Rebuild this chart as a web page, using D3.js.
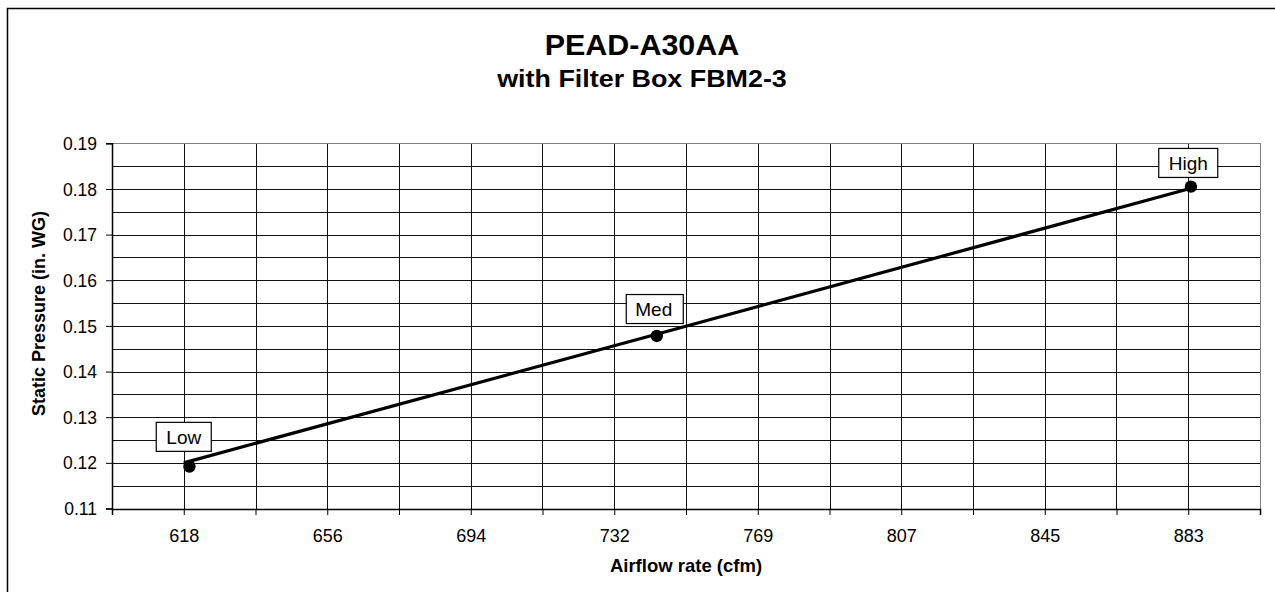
<!DOCTYPE html>
<html>
<head>
<meta charset="utf-8">
<script src="https://cdn.jsdelivr.net/npm/d3@7"></script>
<style>
  html, body { margin: 0; padding: 0; background: #fff; }
  svg { display: block; }
  text { font-family: Arial, "Liberation Sans", sans-serif; fill: #000; }
</style>
</head>
<body>
<svg id="chart" width="1275" height="592"></svg>
<script>
// ---- data ----
const titleText = "PEAD-A30AA";
const subtitleText = "with Filter Box FBM2-3";
const xTitle = "Airflow rate (cfm)";
const yTitle = "Static Pressure (in. WG)";

const xTickLabels = ["618", "656", "694", "732", "769", "807", "845", "883"];
const yTickValues = [0.11, 0.12, 0.13, 0.14, 0.15, 0.16, 0.17, 0.18, 0.19];

// fan-speed curve (line series with data labels)
const speedNames = ["Low", "Med", "High"];
const curveAirflow = [618, 742, 883];
const curvePressure = [0.12, 0.148, 0.18];

// measured points (marker series)
const pointAirflow = [619.5, 742.8, 883.7];
const pointPressure = [0.1192, 0.1478, 0.1805];

// ---- layout ----
const svg = d3.select("#chart");
const W = 1275, H = 592;
const plot = { left: 112, right: 1260, top: 143.3, bottom: 508.5 };

const firstLabel = +xTickLabels[0], lastLabel = +xTickLabels[xTickLabels.length - 1];
const minorStep = (lastLabel - firstLabel) / ((xTickLabels.length - 1) * 2);
const xMin = firstLabel - minorStep, xMax = lastLabel + minorStep;

const x = d3.scaleLinear().domain([xMin, xMax]).range([plot.left, plot.right]);
const y = d3.scaleLinear().domain([d3.min(yTickValues), d3.max(yTickValues)]).range([plot.bottom, plot.top]);

const xGridValues = d3.range((xTickLabels.length - 1) * 2 + 3).map(i => xMin + i * minorStep).filter(v => v <= xMax + 1e-9);
const yGridValues = d3.range((yTickValues.length - 1) * 2 + 1).map(i => d3.min(yTickValues) + i * 0.005);

// outer chart border
svg.append("rect")
  .attr("x", 7.5).attr("y", 8.5)
  .attr("width", W + 20).attr("height", H + 20)
  .attr("fill", "#fff").attr("stroke", "#000").attr("stroke-width", 1.5);

// titles (slightly widened to match the original's glyph proportions)
svg.append("text")
  .attr("transform", "translate(642,55) scale(1.05,1)")
  .attr("text-anchor", "middle").attr("font-weight", "bold").attr("font-size", 29)
  .text(titleText);
svg.append("text")
  .attr("transform", "translate(642,87) scale(1.12,1)")
  .attr("text-anchor", "middle").attr("font-weight", "bold").attr("font-size", 24)
  .text(subtitleText);

// gridlines
const g = svg.append("g").attr("shape-rendering", "crispEdges");
g.selectAll("line.hgrid").data(yGridValues).enter().append("line")
  .attr("class", "hgrid")
  .attr("x1", plot.left).attr("x2", plot.right)
  .attr("y1", d => Math.round(y(d)) + 0.5).attr("y2", d => Math.round(y(d)) + 0.5)
  .attr("stroke", "#111").attr("stroke-width", 1);
g.selectAll("line.vgrid").data(xGridValues).enter().append("line")
  .attr("class", "vgrid")
  .attr("x1", d => Math.round(x(d)) + 0.5).attr("x2", d => Math.round(x(d)) + 0.5)
  .attr("y1", plot.top).attr("y2", plot.bottom)
  .attr("stroke", "#111").attr("stroke-width", 1);

// plot border top/right gray
g.append("line").attr("x1", plot.left).attr("x2", plot.right + 1)
  .attr("y1", Math.round(plot.top) + 0.5).attr("y2", Math.round(plot.top) + 0.5)
  .attr("stroke", "#808080").attr("stroke-width", 1.5);
g.append("line").attr("x1", Math.round(plot.right) + 0.5).attr("x2", Math.round(plot.right) + 0.5)
  .attr("y1", plot.top).attr("y2", plot.bottom)
  .attr("stroke", "#808080").attr("stroke-width", 1.5);

// x axis
const xAxis = d3.axisBottom(x)
  .tickValues(xGridValues)
  .tickSizeOuter(0)
  .tickSize(6)
  .tickFormat((d, i) => (i % 2 === 1) ? xTickLabels[(i - 1) / 2] : "");
const xg = svg.append("g").attr("transform", `translate(0,${Math.round(plot.bottom)})`).call(xAxis);
xg.select(".domain").attr("stroke", "#000").attr("stroke-width", 1.5);
xg.selectAll(".tick line").attr("stroke", "#000");
xg.selectAll(".tick text").attr("font-size", 18).attr("font-family", "Arial, 'Liberation Sans', sans-serif")
  .attr("y", 33).attr("dy", 0).attr("fill", "#000");

// y axis
const yAxis = d3.axisLeft(y)
  .tickValues(yTickValues)
  .tickSizeOuter(0)
  .tickSize(6)
  .tickFormat(d3.format(".2f"));
const yg = svg.append("g").attr("transform", `translate(${plot.left},0)`).call(yAxis);
yg.select(".domain").attr("stroke", "#000").attr("stroke-width", 1.5);
yg.selectAll(".tick line").attr("stroke", "#000");
yg.selectAll(".tick text").attr("font-size", 17.5).attr("font-family", "Arial, 'Liberation Sans', sans-serif")
  .attr("x", -15).attr("dy", "0.35em").attr("fill", "#000");

// axis titles
svg.append("text").attr("x", (plot.left + plot.right) / 2).attr("y", 572)
  .attr("text-anchor", "middle").attr("font-weight", "bold").attr("font-size", 18.5)
  .text(xTitle);
svg.append("text")
  .attr("transform", `translate(45,${313.5}) rotate(-90)`)
  .attr("text-anchor", "middle").attr("font-weight", "bold").attr("font-size", 18)
  .text(yTitle);

// curve line
const curve = curveAirflow.map((a, i) => ({ x: a, y: curvePressure[i], name: speedNames[i] }));
svg.append("path")
  .datum(curve)
  .attr("d", d3.line().x(d => x(d.x)).y(d => y(d.y)))
  .attr("fill", "none").attr("stroke", "#000").attr("stroke-width", 3.2);

// markers
const pts = pointAirflow.map((a, i) => ({ x: a, y: pointPressure[i] }));
svg.selectAll("circle.pt").data(pts).enter().append("circle")
  .attr("class", "pt")
  .attr("cx", d => x(d.x)).attr("cy", d => y(d.y)).attr("r", 6.2)
  .attr("fill", "#000");

// data labels
const lab = svg.selectAll("g.lab").data(curve).enter().append("g").attr("class", "lab")
  .attr("transform", d => `translate(${x(d.x)},${y(d.y)})`);
lab.append("rect").attr("fill", "#fff").attr("stroke", "#000").attr("stroke-width", 1.2);
lab.append("text").attr("text-anchor", "middle").attr("font-size", 19)
  .attr("y", -19).text(d => d.name);
lab.each(function() {
  const t = d3.select(this).select("text").node().getBBox();
  d3.select(this).select("rect")
    .attr("x", Math.round(-t.width / 2 - 10) + 0.5)
    .attr("y", Math.round(-12.5 - 29) + 0.5)
    .attr("width", Math.round(t.width + 20))
    .attr("height", 29);
});
</script>
</body>
</html>
